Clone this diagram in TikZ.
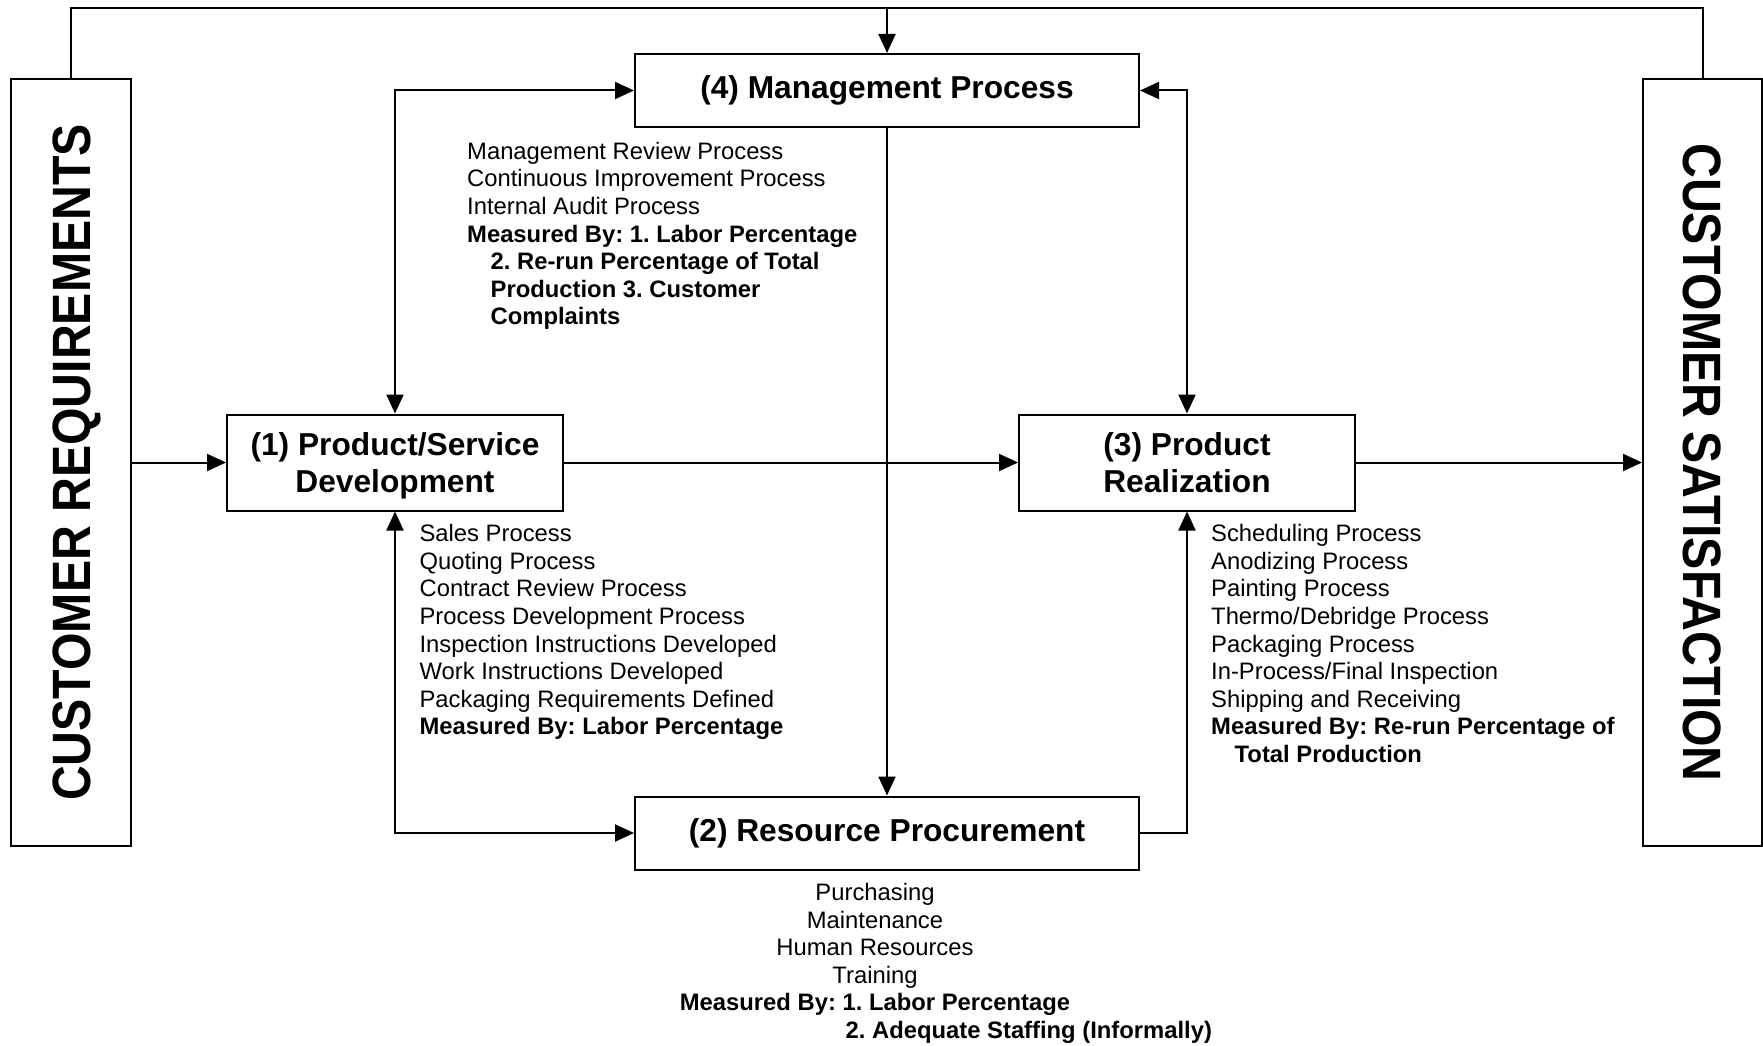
\documentclass[tikz,border=0pt]{standalone}
\usepackage{fontspec}
\setmainfont{Liberation Sans}
\usetikzlibrary{arrows.meta}
\newcommand\ttlfont{\fontsize{31.7pt}{37.5pt}\selectfont\bfseries\frenchspacing}
\newcommand\smlfont{\fontsize{23.8pt}{27.6pt}\selectfont\frenchspacing}
\newcommand\bgfont{\fontsize{54pt}{60pt}\selectfont\bfseries}
\newcommand\fl{\rule{0pt}{20pt}}
\newcommand\ind{\hspace*{23.5pt}}
\newcommand\nodp[1]{\raisebox{0pt}[\height][0pt]{#1}}
\begin{document}
\frenchspacing
\begin{tikzpicture}[x=1pt,y=-1pt,>={Triangle[length=19pt,width=17pt]},
  box/.style={draw,line width=2pt,inner sep=0pt,align=center,font=\ttlfont},
  sidebox/.style={draw,line width=2pt,inner sep=0pt},
  conn/.style={line width=2pt},
  lst/.style={inner sep=0pt,anchor=north west,align=left,font=\smlfont},
  big/.style={inner sep=0pt,anchor=base,font=\bgfont}]
\useasboundingbox (0,0) rectangle (1763,1046);
% side boxes
\node[sidebox,minimum width=120pt,minimum height=767pt] (lb) at (71,462.5) {};
\node[sidebox,minimum width=119pt,minimum height=767pt] (rb) at (1702.5,462.5) {};
\node[big,rotate=90] (lbt) at (90.3,462.5) {\scalebox{0.893}[1]{CUSTOMER REQUIREMENTS}};
\node[big,rotate=-90] (rbt) at (1683.2,462.5) {\scalebox{0.893}[1]{CUSTOMER SATISFACTION}};
% process boxes
\node[box,minimum width=504pt,minimum height=73pt] (mp) at (887,90.5) {(4) Management Process};
\node[box,minimum width=336pt,minimum height=96pt] (psd) at (395,462.5) {(1) Product/Service\\\nodp{Development}};
\node[box,minimum width=336pt,minimum height=96pt] (pr) at (1187,462.5) {(3) Product\\\nodp{Realization}};
\node[box,minimum width=504pt,minimum height=73pt] (rp) at (887,833) {(2) Resource Procurement};
% lists
\node[lst] (la) at (467,139) {\fl Management Review Process\\
Continuous Improvement Process\\
Internal Audit Process\\
\textbf{Measured By: 1. Labor Percentage}\\
\ind\textbf{2. Re-run Percentage of Total}\\
\ind\textbf{Production 3. Customer}\\
\ind\textbf{Complaints}};
\node[lst] (lbl) at (419.4,521.5) {\fl Sales Process\\
Quoting Process\\
Contract Review Process\\
Process Development Process\\
Inspection Instructions Developed\\
Work Instructions Developed\\
Packaging Requirements Defined\\
\textbf{Measured By: Labor Percentage}};
\node[lst] (lc) at (1211,521.5) {\fl Scheduling Process\\
Anodizing Process\\
Painting Process\\
Thermo/Debridge Process\\
Packaging Process\\
In-Process/Final Inspection\\
Shipping and Receiving\\
\textbf{Measured By: Re-run Percentage of}\\
\ind\textbf{Total Production}};
\node[inner sep=0pt,anchor=north,align=center,font=\smlfont] (ld) at (875,880.2) {\fl Purchasing\\
Maintenance\\
Human Resources\\
Training\\
\textbf{Measured By: 1. Labor Percentage}};
\node[inner sep=0pt,anchor=base west,font=\smlfont\bfseries] (ld2) at (845.5,1038.2) {2. Adequate Staffing (Informally)};
% connectors
\coordinate (top) at (0,8);
\draw[conn] (lb.north) -- (lb.north |- top) -- (rb.north |- top) -- (rb.north);
\draw[conn,->] (mp.north |- top) -- (mp.north);
\draw[conn,<->] (mp.west) -| (psd.north);
\draw[conn,<->] (mp.east) -| (pr.north);
\draw[conn,<->] (psd.south) |- (rp.west);
\draw[conn,->] (rp.east) -| (pr.south);
\draw[conn,->] (mp.south) -- (rp.north);
\draw[conn,->] (lb.east) -- (psd.west);
\draw[conn,->] (psd.east) -- (pr.west);
\draw[conn,->] (pr.east) -- (rb.west);
\end{tikzpicture}
\end{document}
